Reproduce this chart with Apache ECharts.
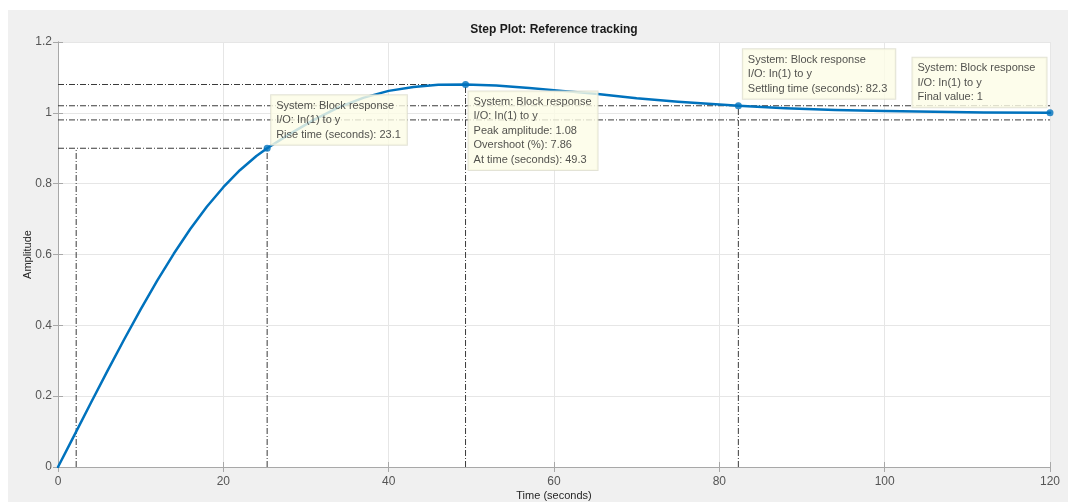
<!DOCTYPE html>
<html>
<head>
<meta charset="utf-8">
<title>Step Plot: Reference tracking</title>
<script src="https://cdn.jsdelivr.net/npm/echarts@6/dist/echarts.min.js"></script>
<style>
  html, body { margin: 0; padding: 0; background: #ffffff; }
  #chart { width: 1072px; height: 502px; }
</style>
</head>
<body>
<div id="chart"></div>
<script>
// Step response samples: time (s) and output amplitude
const timeSec   = [0, 2.2, 4, 6, 8, 10, 12, 14, 16, 18, 20, 22, 24, 25.3, 28, 31, 34, 37, 40, 43, 46, 49.3, 53, 57, 61, 65, 70, 75, 82.3, 88, 94, 100, 106, 112, 120];
const amplitude = [0, 0.1, 0.182, 0.272, 0.36, 0.445, 0.526, 0.602, 0.672, 0.735, 0.79, 0.838, 0.878, 0.9, 0.94, 0.981, 1.016, 1.043, 1.062, 1.073, 1.079, 1.08, 1.077, 1.07, 1.062, 1.054, 1.041, 1.031, 1.02, 1.013, 1.008, 1.005, 1.003, 1.001, 1.0];

// Step characteristics
const riseStartTime = 2.2;   // 10% crossing
const riseEndTime   = 25.3;  // 90% crossing
const riseHigh      = 0.9;
const peakTime      = 49.3;
const peakAmplitude = 1.08;
const overshootPct  = 7.86;
const settleTime    = 82.3;
const settleBand    = [0.98, 1.02];
const finalTime     = 120;
const finalValue    = 1;

// Axis ticks
const xTicks = [0, 20, 40, 60, 80, 100, 120];
const yTicks = [0, 0.2, 0.4, 0.6, 0.8, 1, 1.2];

const systemName = 'Block response';
const ioName = 'In(1) to y';
const riseTime = Math.round((riseEndTime - riseStartTime) * 10) / 10;

const chart = echarts.init(document.getElementById('chart'), null, { renderer: 'canvas' });

const FONT = '"Liberation Sans", Arial, Helvetica, sans-serif';
const dashDot = [6, 2, 1, 2];

function refLine(points) {
  return {
    type: 'line',
    data: points,
    symbol: 'none',
    silent: true,
    z: 2,
    lineStyle: { color: '#3a3a3a', width: 1, type: dashDot }
  };
}

const boxLabel = {
  show: true,
  fontFamily: FONT,
  fontSize: 11,
  lineHeight: 14.5,
  color: '#262626',
  backgroundColor: '#fcfce6',
  borderColor: '#dcdccc',
  borderWidth: 1,
  padding: [3, 6, 3, 5]
};

const markers = [
  {
    value: [riseEndTime, riseHigh],
    text: ['System: ' + systemName, 'I/O: ' + ioName, 'Rise time (seconds): ' + riseTime],
    label: { position: [7.5, -49.5] }
  },
  {
    value: [peakTime, peakAmplitude],
    text: ['System: ' + systemName, 'I/O: ' + ioName, 'Peak amplitude: ' + peakAmplitude,
           'Overshoot (%): ' + overshootPct, 'At time (seconds): ' + peakTime],
    label: { position: [6.5, 10.5] }
  },
  {
    value: [settleTime, settleBand[1]],
    text: ['System: ' + systemName, 'I/O: ' + ioName, 'Settling time (seconds): ' + settleTime],
    label: { position: [8, -53], padding: [3, 8, 3, 5] }
  },
  {
    value: [finalTime, finalValue],
    text: ['System: ' + systemName, 'I/O: ' + ioName, 'Final value: ' + finalValue],
    label: { position: [-134, -51.5], padding: [3, 11, 3, 5] }
  }
];

const axisGrey = '#a8a8a8';

const option = {
  animation: false,
  backgroundColor: 'transparent',
  graphic: {
    elements: [{
      type: 'rect',
      z: -100,
      silent: true,
      shape: { x: 8, y: 10, width: 1060, height: 492 },
      style: { fill: '#f0f0f0' }
    }]
  },
  grid: {
    left: 58, right: 22, top: 42, bottom: 35,
    outerBoundsMode: 'none',
    containLabel: false,
    show: true,
    backgroundColor: '#ffffff',
    borderWidth: 0
  },
  xAxis: [{
    type: 'value',
    min: xTicks[0], max: xTicks[xTicks.length - 1], interval: 20,
    position: 'bottom',
    name: 'Time (seconds)',
    nameLocation: 'middle',
    nameGap: 23,
    nameMoveOverlap: false,
    nameTextStyle: { fontFamily: FONT, fontSize: 11, color: '#262626' },
    axisLine: { show: true, lineStyle: { color: axisGrey, width: 1 } },
    axisTick: { show: true, inside: true, length: 5, lineStyle: { color: axisGrey } },
    axisLabel: { fontFamily: FONT, fontSize: 12, color: '#555555', margin: 9 },
    splitLine: { show: true, lineStyle: { color: '#e6e6e6', width: 1 } }
  }, {
    type: 'value',
    min: xTicks[0], max: xTicks[xTicks.length - 1], interval: 20,
    position: 'top',
    name: 'Step Plot: Reference tracking',
    nameLocation: 'middle',
    nameGap: 6,
    nameMoveOverlap: false,
    nameTextStyle: { fontFamily: FONT, fontSize: 12, fontWeight: 'bold', color: '#1a1a1a' },
    axisLine: { show: true, lineStyle: { color: axisGrey, width: 1 } },
    axisTick: { show: true, inside: true, length: 5, lineStyle: { color: axisGrey } },
    axisLabel: { show: false },
    splitLine: { show: false }
  }],
  yAxis: [{
    type: 'value',
    min: yTicks[0], max: yTicks[yTicks.length - 1], interval: 0.2,
    position: 'left',
    name: 'Amplitude',
    nameLocation: 'middle',
    nameGap: 25,
    nameRotate: 90,
    nameMoveOverlap: false,
    nameTextStyle: { fontFamily: FONT, fontSize: 11, color: '#262626' },
    axisLine: { show: true, lineStyle: { color: axisGrey, width: 1 } },
    axisTick: { show: true, inside: true, length: 5, lineStyle: { color: axisGrey } },
    axisLabel: { fontFamily: FONT, fontSize: 12, color: '#555555', margin: 6 },
    splitLine: { show: true, lineStyle: { color: '#e6e6e6', width: 1 } }
  }, {
    type: 'value',
    min: yTicks[0], max: yTicks[yTicks.length - 1], interval: 0.2,
    position: 'right',
    axisLine: { show: true, lineStyle: { color: axisGrey, width: 1 } },
    axisTick: { show: true, inside: true, length: 5, lineStyle: { color: axisGrey } },
    axisLabel: { show: false },
    splitLine: { show: false }
  }],
  series: [
    // rise-time guides
    refLine([[riseStartTime, 0], [riseStartTime, riseHigh]]),
    refLine([[riseEndTime, 0], [riseEndTime, riseHigh]]),
    refLine([[0, riseHigh], [riseEndTime, riseHigh]]),
    // peak guides
    refLine([[0, peakAmplitude], [peakTime, peakAmplitude]]),
    refLine([[peakTime, 0], [peakTime, peakAmplitude]]),
    // settling band and settling time
    refLine([[0, settleBand[0]], [finalTime, settleBand[0]]]),
    refLine([[0, settleBand[1]], [finalTime, settleBand[1]]]),
    refLine([[settleTime, 0], [settleTime, settleBand[1]]]),
    {
      type: 'line',
      name: 'Step response',
      data: timeSec.map((t, i) => [t, amplitude[i]]),
      symbol: 'none',
      smooth: false,
      z: 5,
      lineStyle: { color: '#0072BD', width: 2.5, join: 'round', cap: 'round' }
    },
    {
      type: 'scatter',
      z: 10,
      symbol: 'circle',
      symbolSize: 7,
      itemStyle: { color: '#0072BD' },
      label: Object.assign({}, boxLabel),
      data: markers.map(m => ({
        value: m.value,
        label: Object.assign({ formatter: m.text.join('\n') }, m.label)
      }))
    }
  ]
};

chart.setOption(option);
</script>
</body>
</html>
